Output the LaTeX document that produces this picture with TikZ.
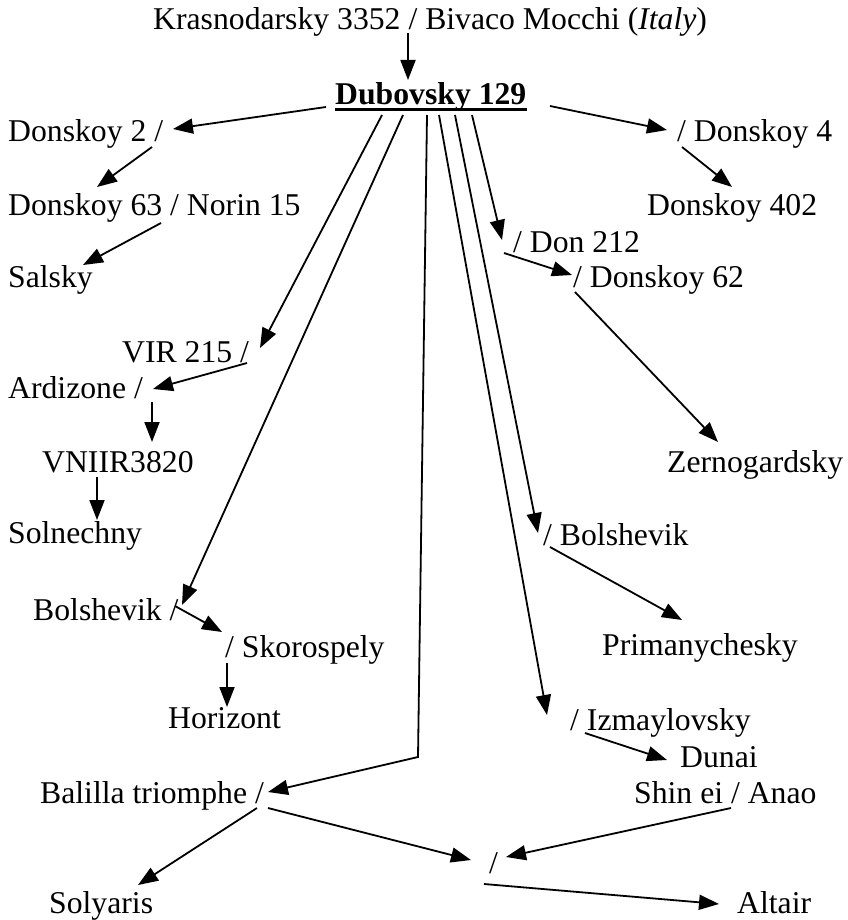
\documentclass[tikz,border=0pt]{standalone}
\usepackage{fontspec}
\setmainfont{Liberation Serif}
\usetikzlibrary{arrows.meta}
\begin{document}
\begin{tikzpicture}[x=1pt,y=-1pt,
  lbl/.style={anchor=base west, inner sep=0pt, font=\fontsize{31.7}{38}\selectfont},
  link/.style={line width=1.8pt, -{Triangle[length=20pt,width=15pt]}}]
\useasboundingbox (0,0) rectangle (847,920);

% varieties
\node[lbl] (kras) at (153,30) {Krasnodarsky 3352 / Bivaco Mocchi (\textit{Italy})};
\node[lbl,font=\fontsize{31.7}{38}\selectfont\bfseries] (dub) at (335,105) {Dubovsky 129};
\node[lbl] (d2) at (8,142) {Donskoy 2 /};
\node[lbl] (d63) at (8,215) {Donskoy 63 / Norin 15};
\node[lbl] (sal) at (8,287) {Salsky};
\node[lbl] (d4) at (677,142) {/ Donskoy 4};
\node[lbl] (d402) at (647,215) {Donskoy 402};
\node[lbl] (don) at (513,252) {/ Don 212};
\node[lbl] (d62) at (573,287) {/ Donskoy 62};
\node[lbl] (vir) at (122,362) {VIR 215 /};
\node[lbl] (ard) at (8,398) {Ardizone /};
\node[lbl] (vn) at (42,472) {VNIIR3820};
\node[lbl] (soln) at (8,543) {Solnechny};
\node[lbl] (zer) at (667,472) {Zernogardsky};
\node[lbl] (bolr) at (543,545) {/ Bolshevik};
\node[lbl] (boll) at (33,620) {Bolshevik /};
\node[lbl] (prim) at (602,655) {Primanychesky};
\node[lbl] (skor) at (225,657) {/ Skorospely};
\node[lbl] (hor) at (168,728) {Horizont};
\node[lbl] (izm) at (570,730) {/ Izmaylovsky};
\node[lbl] (dun) at (680,767) {Dunai};
\node[lbl] (bal) at (40,803) {Balilla triomphe /};
\node[lbl] (shin) at (634,803) {Shin ei / Anao};
\node[lbl] (cross) at (489,873) {/};
\node[lbl] (solj) at (49,913) {Solyaris};
\node[lbl] (alt) at (737,913) {Altair};

% underline of the central variety
\draw[line width=3.4pt] ([yshift=-4.5pt]dub.base west) -- ([yshift=-4.5pt]dub.base east);

% connector ends
\coordinate (kras-o) at (408,33);   \coordinate (dub-i) at (408,80);
\coordinate (dub-a) at (326,107);   \coordinate (d2-i) at (173,129);
\coordinate (dub-b) at (550,106);   \coordinate (d4-i) at (667,130);
\coordinate (d4-o) at (682,147);    \coordinate (d402-i) at (732,187);
\coordinate (d2-o) at (152,147);    \coordinate (d63-i) at (97,187);
\coordinate (d63-o) at (161,223);   \coordinate (sal-i) at (83,265);
\coordinate (dub-c) at (382,115);   \coordinate (vir-i) at (260,348);
\coordinate (dub-d) at (403,115);   \coordinate (boll-i) at (182,605);
\coordinate (dub-e) at (427,115);   \coordinate (bend) at (418,757);
\coordinate (bal-i) at (268,792);
\coordinate (dub-f) at (439,115);   \coordinate (izm-i) at (547,715);
\coordinate (dub-g) at (455,115);   \coordinate (bolr-i) at (538,533);
\coordinate (dub-h) at (472,115);   \coordinate (don-i) at (502,240);
\coordinate (don-o) at (504,253);   \coordinate (d62-i) at (572,275);
\coordinate (d62-o) at (575,292);   \coordinate (zer-i) at (718,442);
\coordinate (vir-o) at (247,363);   \coordinate (ard-i) at (153,389);
\coordinate (ard-o) at (152,402);   \coordinate (vn-i) at (152,442);
\coordinate (vn-o) at (97,477);     \coordinate (soln-i) at (97,520);
\coordinate (boll-o) at (175,606);  \coordinate (skor-i) at (222,632);
\coordinate (skor-o) at (227,663);  \coordinate (hor-i) at (227,707);
\coordinate (bolr-o) at (550,547);  \coordinate (prim-i) at (682,620);
\coordinate (izm-o) at (585,733);   \coordinate (dun-i) at (667,760);
\coordinate (bal-o) at (257,808);   \coordinate (solj-i) at (138,885);
\coordinate (bal-p) at (268,808);   \coordinate (cross-i) at (471,860);
\coordinate (shin-o) at (731,808);  \coordinate (cross-j) at (506,857);
\coordinate (cross-o) at (484,884); \coordinate (alt-i) at (719,904);

% pedigree links
\draw[link] (kras-o) -- (dub-i);
\draw[link] (dub-a) -- (d2-i);
\draw[link] (dub-b) -- (d4-i);
\draw[link] (d4-o) -- (d402-i);
\draw[link] (d2-o) -- (d63-i);
\draw[link] (d63-o) -- (sal-i);
\draw[link] (dub-c) -- (vir-i);
\draw[link] (dub-d) -- (boll-i);
\draw[link] (dub-e) -- (bend) -- (bal-i);
\draw[link] (dub-f) -- (izm-i);
\draw[link] (dub-g) -- (bolr-i);
\draw[link] (dub-h) -- (don-i);
\draw[link] (don-o) -- (d62-i);
\draw[link] (d62-o) -- (zer-i);
\draw[link] (vir-o) -- (ard-i);
\draw[link] (ard-o) -- (vn-i);
\draw[link] (vn-o) -- (soln-i);
\draw[link] (boll-o) -- (skor-i);
\draw[link] (skor-o) -- (hor-i);
\draw[link] (bolr-o) -- (prim-i);
\draw[link] (izm-o) -- (dun-i);
\draw[link] (bal-o) -- (solj-i);
\draw[link] (bal-p) -- (cross-i);
\draw[link] (shin-o) -- (cross-j);
\draw[link] (cross-o) -- (alt-i);
\end{tikzpicture}
\end{document}
